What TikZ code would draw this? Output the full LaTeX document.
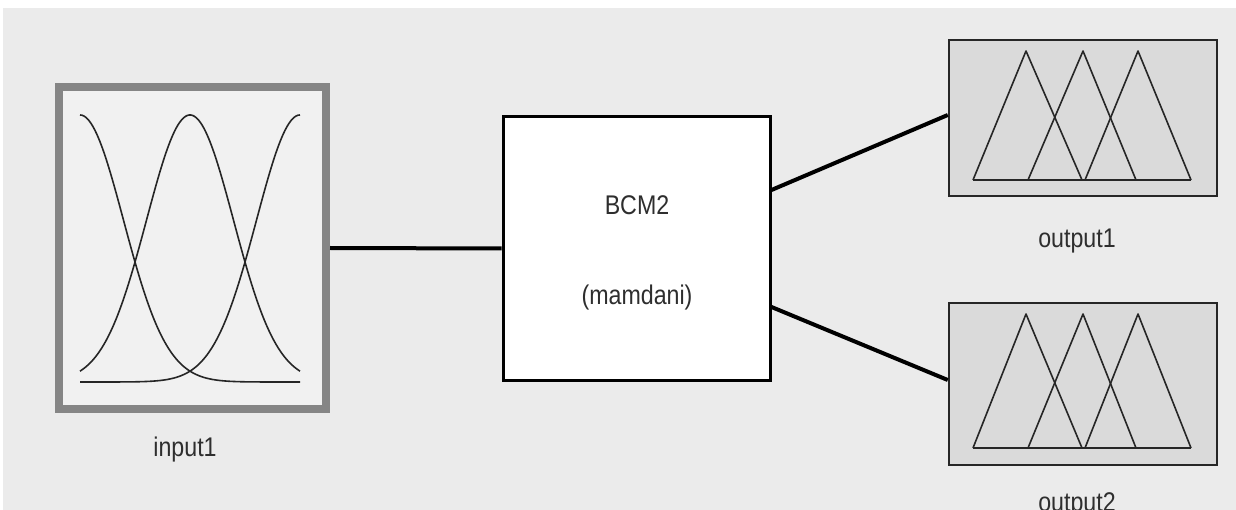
\documentclass[tikz,border=0pt]{standalone}
\usepackage{fontspec}
\setmainfont{Liberation Sans}
\newfontfamily\labfont[FakeStretch=0.86]{Liberation Sans}
\usetikzlibrary{calc}
\definecolor{bggray}{HTML}{EBEBEB}
\definecolor{inbg}{HTML}{F1F1F1}
\definecolor{inborder}{HTML}{858585}
\definecolor{outbg}{HTML}{DADADA}
\definecolor{txt}{HTML}{2E2E2E}
\definecolor{curve}{HTML}{262626}
\tikzset{
  lab/.style={font=\labfont\fontsize{27}{30}\selectfont, text=txt, inner sep=0pt, anchor=base},
  inbox/.style={draw=inborder, fill=inbg, line width=8pt, minimum width=267pt, minimum height=322pt, inner sep=0pt},
  fisbox/.style={draw=black, fill=white, line width=3pt, minimum width=267pt, minimum height=263pt, inner sep=0pt},
  outbox/.style={draw=black!85, fill=outbg, line width=2.5pt, minimum width=268pt, inner sep=0pt},
  wire/.style={line width=4pt, black},
  mf/.style={line width=1.6pt, curve, line join=round},
}
\begin{document}
\begin{tikzpicture}[x=1pt,y=-1pt]
\useasboundingbox (0,0) rectangle (1236,510);
\clip (0,0) rectangle (1236,510);
\fill[white] (0,0) rectangle (1236,510);
\fill[bggray] (3,8) rectangle (1236,510);
% boxes
\node[inbox] (inp) at (192.5,248) {};
\node[fisbox] (fis) at (636.5,248.5) {};
\node[outbox, minimum height=156pt] (out1) at (1083,118) {};
\node[outbox, minimum height=162pt] (out2) at (1083,384) {};
% connectors
\draw[wire] (inp.east) -- (fis.west);
\draw[wire] ([yshift=58.5pt]fis.east) -- ([yshift=3pt]out1.west);
\draw[wire] ([yshift=-58.5pt]fis.east) -- ([yshift=4pt]out2.west);
% input membership functions (gaussians)
\foreach \c in {80,190,300}{
  \draw[mf] plot[domain=80:300, samples=120, smooth] (\x, {382-267*exp(-(((\x-\c)/10)^2)/37.8)});
}
% output1 triangles
\draw[mf] (973,180) -- (1026,51) -- (1082,180);
\draw[mf] (1028,180) -- (1083,51) -- (1136,180);
\draw[mf] (1085,180) -- (1138,51) -- (1191,180);
\draw[mf, line width=2.2pt] (973,180) -- (1191,180);
% output2 triangles
\draw[mf] (973,448) -- (1026,314) -- (1082,448);
\draw[mf] (1028,448) -- (1083,314) -- (1136,448);
\draw[mf] (1085,448) -- (1138,314) -- (1191,448);
\draw[mf, line width=2.2pt] (973,448) -- (1191,448);
% labels
\node[lab] (tbcm) at (637,215) {BCM2};
\node[lab] (tmam) at (637,305) {(mamdani)};
\node[lab] (tin) at (185,456) {input1};
\node[lab] (to1) at (1077,248) {output1};
\node[lab] (to2) at (1077,511) {output2};
\end{tikzpicture}
\end{document}
